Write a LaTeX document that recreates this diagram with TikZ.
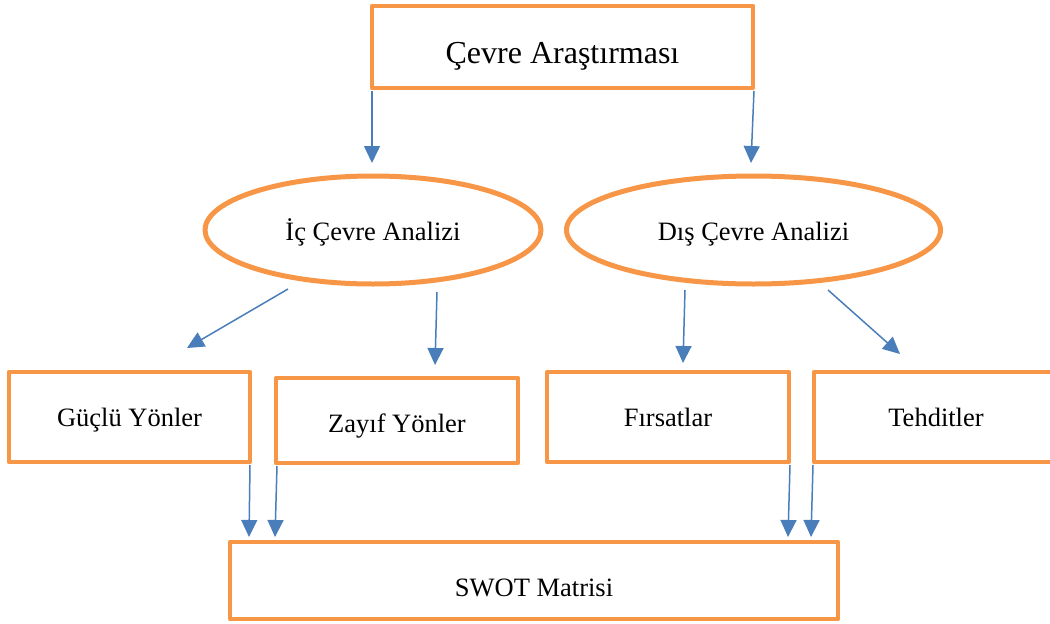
\documentclass[tikz,border=0pt]{standalone}
\usepackage{fontspec}
\setmainfont{Liberation Serif}
\usetikzlibrary{arrows.meta,shapes.geometric,calc}
\definecolor{boxorange}{RGB}{247,150,70}
\definecolor{arrowblue}{RGB}{74,126,187}
\begin{document}
\begin{tikzpicture}[x=1pt,y=-1pt,
  frame/.style={draw=boxorange,line width=4.5pt,line join=round,inner sep=0pt,outer sep=0pt,
    font=\fontsize{26.5}{30}\selectfont,text depth=0pt},
  boxnode/.style={frame,rectangle},
  ovalnode/.style={frame,ellipse,line width=5pt},
  arr/.style={draw=arrowblue,line width=1.5pt,-{Triangle[length=17pt,width=16pt]}}]
\useasboundingbox (0,0) rectangle (1050,624);
\clip (0,0) rectangle (1050,624);

% top box
\node[boxnode,minimum width=381pt,minimum height=82pt,text height=32pt,
  font=\fontsize{32}{36}\selectfont] (top) at (562.5,47) {Çevre Araştırması};

% internal / external analysis
\node[ovalnode,minimum width=336pt,minimum height=108pt,text height=20pt] (ic) at (373,230) {İç Çevre Analizi};
\node[ovalnode,minimum width=374pt,minimum height=108pt,text height=20pt] (dis) at (753.5,230) {Dış Çevre Analizi};

% the four SWOT factors
\node[boxnode,minimum width=241pt,minimum height=90pt,text height=18pt] (guclu) at (129.5,417) {Güçlü Yönler};
\node[boxnode,minimum width=242pt,minimum height=85pt,text height=23pt] (zayif) at (397,420.5) {Zayıf Yönler};
\node[boxnode,minimum width=242pt,minimum height=90pt,text height=18pt] (firsat) at (668,417) {Fırsatlar};
\node[boxnode,minimum width=244pt,minimum height=90pt,text height=18pt] (tehdit) at (936,417) {Tehditler};

% result
\node[boxnode,minimum width=608pt,minimum height=77pt,text height=31pt] (swot) at (534,580.5) {SWOT Matrisi};

% connectors
\draw[arr] ($(top.south west)+(0,3)$) -- ($(ic.north)+(-1,-13)$);
\draw[arr] ($(top.south east)+(1,3)$) -- ($(dis.north)+(-2.5,-13)$);
\draw[arr] ($(ic.south)+(-85,5)$) -- ($(guclu.north)+(57.5,-24)$);
\draw[arr] ($(ic.south)+(64,8)$) -- ($(zayif.north)+(38,-13)$);
\draw[arr] ($(dis.south)+(-68.5,6)$) -- ($(firsat.north)+(15,-9)$);
\draw[arr] ($(dis.south)+(74.5,6)$) -- ($(tehdit.north)+(-36,-18)$);
\draw[arr] ($(guclu.south east)+(0,3)$) -- ($(swot.north west)+(19,-5)$);
\draw[arr] ($(zayif.south west)+(1,3)$) -- ($(swot.north west)+(45,-5)$);
\draw[arr] ($(firsat.south east)+(1,3)$) -- ($(swot.north east)+(-50,-5)$);
\draw[arr] ($(tehdit.south west)+(-1,3)$) -- ($(swot.north east)+(-27,-5)$);
\end{tikzpicture}
\end{document}
